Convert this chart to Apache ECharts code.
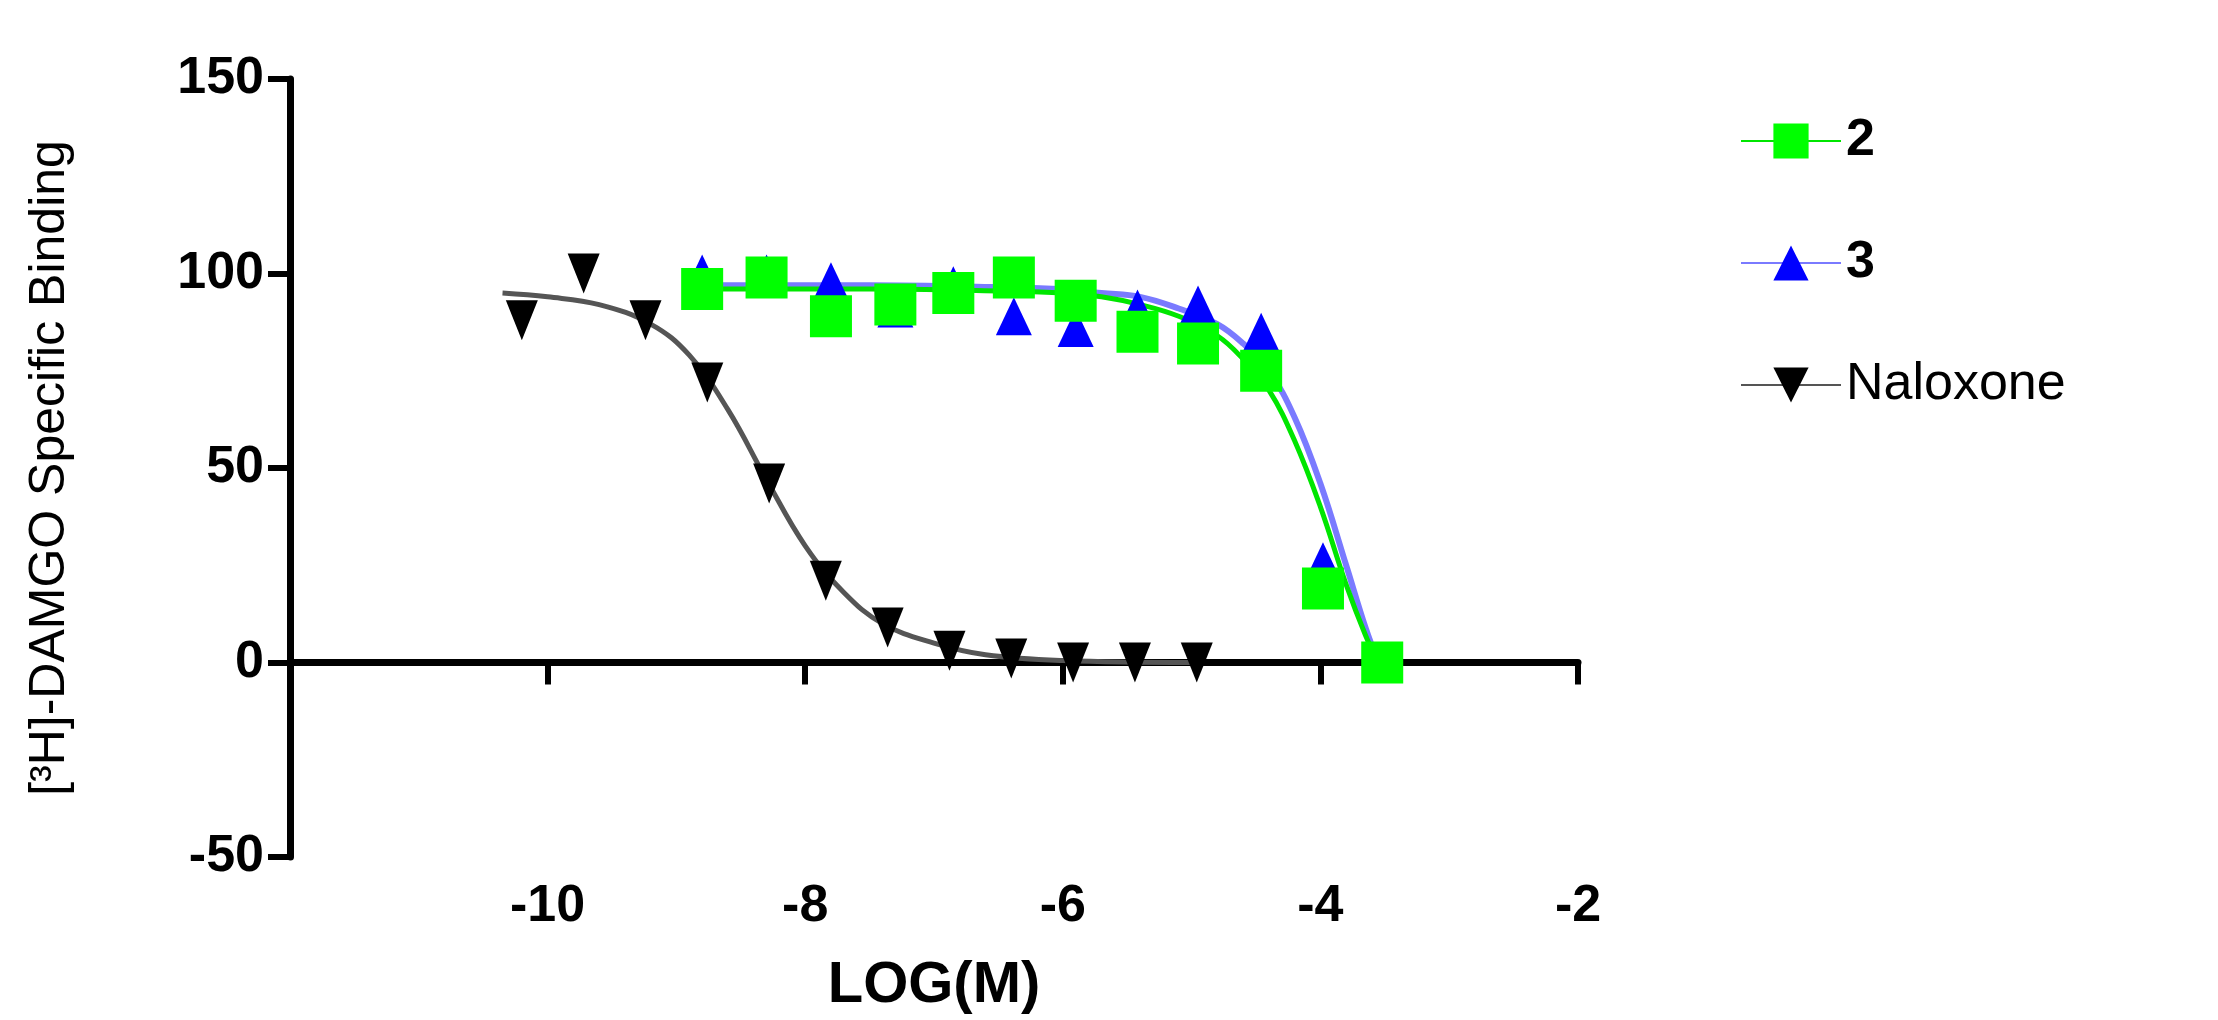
<!DOCTYPE html>
<html>
<head>
<meta charset="utf-8">
<script src="https://cdn.jsdelivr.net/npm/echarts@6/dist/echarts.min.js"></script>
<style>html,body{margin:0;padding:0;background:#fff}#c{width:2218px;height:1020px}</style>
</head>
<body>
<div id="c"></div>
<script>
// measured points, log concentration
var logX = [-8.8, -8.3, -7.8, -7.3, -6.85, -6.38, -5.9, -5.42, -4.95, -4.46, -3.98, -3.52];
var cmp2 = [96, 99, 89, 92, 95, 99, 93, 85, 82, 75, 19, 0];
var cmp3 = [100, 100, 98, 91, 97, 89, 86, 91, 92, 85, 26, 0];

var naloxX = [-10.2, -9.72, -9.24, -8.76, -8.28, -7.84, -7.36, -6.88, -6.4, -5.92, -5.44, -4.96];
var naloxY = [88, 100, 88, 72, 46, 21, 9, 3, 1, 0, 0, 0];

// fitted curves
var fit2X = [-8.8, -7.5, -6.5, -6, -5.7, -5.4, -5.1, -4.8, -4.6, -4.4, -4.2, -4.0, -3.8, -3.65, -3.55];
var fit2Y = [96, 96, 95.5, 95, 94, 92, 89, 84, 78, 70, 57, 40, 20, 7, 0];
var fit3X = [-8.8, -7.5, -6.5, -6, -5.7, -5.4, -5.1, -4.8, -4.6, -4.4, -4.2, -4.0, -3.8, -3.65, -3.55];
var fit3Y = [97, 97, 96.5, 96, 95, 94, 91, 87, 82, 75, 63, 46, 25, 9, 0];
var fitNX = [-10.35, -10, -9.6, -9.2, -8.9, -8.6, -8.3, -8.0, -7.7, -7.4, -7.0, -6.6, -6.0, -5.0];
var fitNY = [95, 94, 92, 87, 79, 65, 47, 30, 18, 10, 5, 2, 0.5, 0];

var yTicks = [-50, 0, 50, 100, 150];

function pairs(xs, ys) { return xs.map(function (x, i) { return [x, ys[i]]; }); }

var chart = echarts.init(document.getElementById('c'));
var font = 'Liberation Sans, Arial, sans-serif';
var option = {
    animation: false,
    grid: { left: 290, right: 640, top: 79, bottom: 99 },
    legend: {
        orient: 'vertical', left: 1735, top: 110, itemGap: 70,
        itemWidth: 100, itemHeight: 44,
        textStyle: { fontFamily: font, fontSize: 52, color: '#000' },
        data: [
            { name: '2', textStyle: { fontWeight: 'bold' } },
            { name: '3', textStyle: { fontWeight: 'bold' } },
            { name: 'Naloxone' }
        ]
    },
    xAxis: {
        type: 'value', min: -12, max: -2, interval: 2,
        name: 'LOG(M)', nameLocation: 'middle', nameGap: 100,
        nameTextStyle: { fontFamily: font, fontSize: 58, fontWeight: 'bold', color: '#000' },
        axisLine: { onZero: true, lineStyle: { color: '#000', width: 7 } },
        axisTick: { length: 22, lineStyle: { width: 6 } },
        splitLine: { show: false },
        axisLabel: {
            fontFamily: font, fontSize: 52, fontWeight: 'bold', color: '#000', margin: 24,
            formatter: function (v) { return v === -12 ? '' : v; }
        }
    },
    yAxis: {
        type: 'value', min: -50, max: 150, interval: 50,
        name: '[\u00B3H]-DAMGO Specific Binding', nameLocation: 'middle', nameGap: 215,
        nameTextStyle: { fontFamily: font, fontSize: 50, color: '#000' },
        axisLine: { onZero: false, lineStyle: { color: '#000', width: 7 } },
        axisTick: { length: 22, lineStyle: { width: 6 } },
        splitLine: { show: false },
        axisLabel: {
            fontFamily: font, fontSize: 52, fontWeight: 'bold', color: '#000', margin: 26,
            formatter: function (v) { return yTicks.indexOf(v) >= 0 ? v : ''; }
        }
    },
    series: [
        { name: 'Naloxone', type: 'line', data: pairs(fitNX, fitNY), smooth: 0.4, symbol: 'triangle', symbolRotate: 180, symbolSize: 38, showSymbol: false,
          itemStyle: { color: '#000' }, lineStyle: { color: '#555', width: 5 }, z: 2 },
        { name: '3', type: 'line', data: pairs(fit3X, fit3Y), smooth: 0.4, symbol: 'triangle', symbolSize: 40, showSymbol: false,
          itemStyle: { color: '#0000ff' }, lineStyle: { color: '#7a7aff', width: 6 }, z: 2 },
        { name: '2', type: 'line', data: pairs(fit2X, fit2Y), smooth: 0.4, symbol: 'rect', symbolSize: 40, showSymbol: false,
          itemStyle: { color: '#00ff00' }, lineStyle: { color: '#00e600', width: 5 }, z: 3 },
        { name: 'Naloxone', type: 'scatter', data: pairs(naloxX, naloxY), symbol: 'triangle', symbolRotate: 180, symbolSize: [32, 40],
          itemStyle: { color: '#000', opacity: 1 }, z: 4 },
        { name: '3', type: 'scatter', data: pairs(logX, cmp3), symbol: 'triangle', symbolSize: [36, 38],
          itemStyle: { color: '#0000ff', opacity: 1 }, z: 4 },
        { name: '2', type: 'scatter', data: pairs(logX, cmp2), symbol: 'rect', symbolSize: 42,
          itemStyle: { color: '#00ff00', opacity: 1 }, z: 5 }
    ]
};
chart.setOption(option);
</script>
</body>
</html>
